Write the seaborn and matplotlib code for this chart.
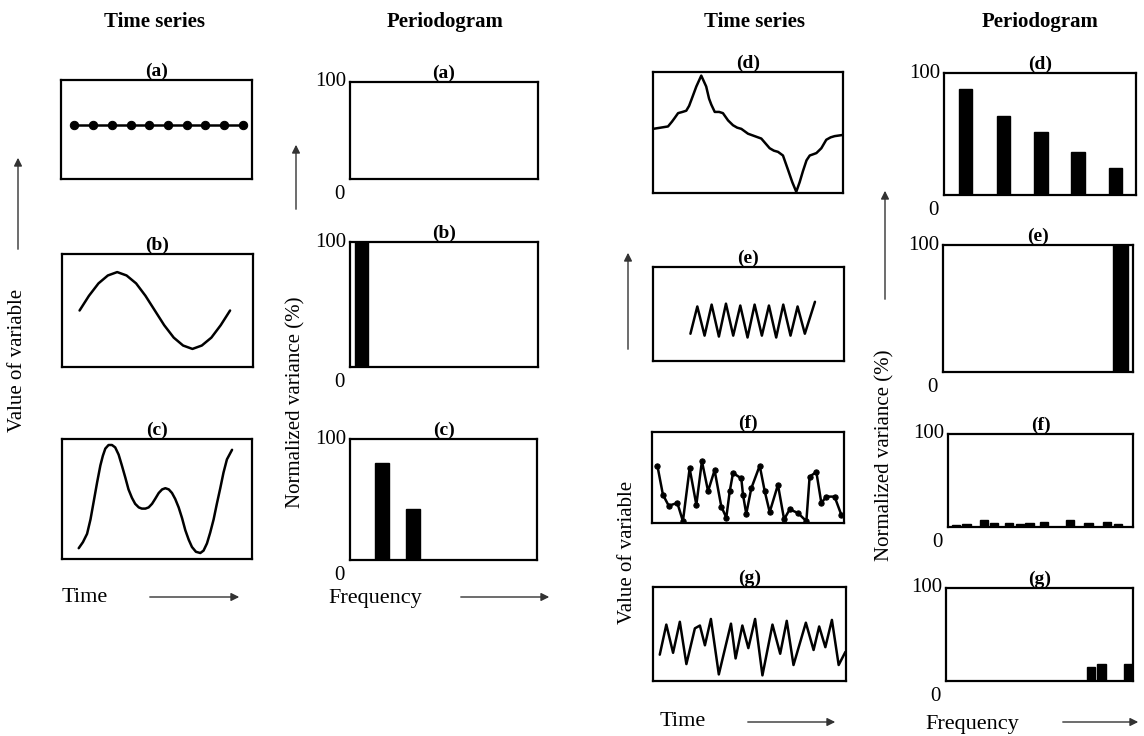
import matplotlib
matplotlib.use("Agg")
import matplotlib.pyplot as plt
from matplotlib.patches import FancyArrowPatch
import seaborn as sns

# ---- time series (x and y as fractions of the window) ----
a_x = [0.07, 0.168, 0.266, 0.364, 0.462, 0.56, 0.658, 0.756, 0.854, 0.953]
a_y = [0.545] * 10

b_x = [0.092, 0.141, 0.191, 0.24, 0.289, 0.338, 0.388, 0.437, 0.486,
       0.535, 0.585, 0.634, 0.683, 0.732, 0.782, 0.831, 0.88]
b_y = [0.50, 0.63, 0.74, 0.81, 0.84, 0.81, 0.74, 0.63, 0.50,
       0.37, 0.26, 0.19, 0.16, 0.19, 0.26, 0.37, 0.50]

c_x = [0.088, 0.11, 0.132, 0.15, 0.167, 0.185, 0.202, 0.215, 0.228, 0.245, 0.263,
       0.28, 0.298, 0.315, 0.333, 0.35, 0.368, 0.385, 0.404, 0.42,
       0.439, 0.456, 0.474, 0.49, 0.509, 0.527, 0.544, 0.562, 0.579, 0.596,
       0.614, 0.632, 0.649, 0.667, 0.684, 0.705, 0.728, 0.745, 0.763,
       0.78, 0.798, 0.815, 0.833, 0.85, 0.868, 0.895]
c_y = [0.09, 0.14, 0.21, 0.33, 0.48, 0.64, 0.78, 0.86, 0.92, 0.95, 0.95,
       0.93, 0.87, 0.78, 0.68, 0.58, 0.51, 0.46, 0.43, 0.42,
       0.42, 0.43, 0.46, 0.50, 0.55, 0.58, 0.59, 0.58, 0.55, 0.50,
       0.43, 0.34, 0.24, 0.16, 0.10, 0.06, 0.05, 0.07, 0.13,
       0.22, 0.33, 0.46, 0.59, 0.72, 0.83, 0.91]

d_x = [0.0, 0.04, 0.079, 0.1, 0.114, 0.132, 0.155, 0.175, 0.19, 0.202, 0.228,
       0.254, 0.28, 0.295, 0.307, 0.325, 0.348, 0.368,
       0.395, 0.421, 0.443, 0.465, 0.5, 0.535, 0.57, 0.592, 0.614, 0.636, 0.658,
       0.684, 0.711, 0.733, 0.754, 0.772, 0.789, 0.808, 0.825, 0.843, 0.86,
       0.886, 0.912, 0.935, 0.956, 1.0]
d_y = [0.53, 0.54, 0.55, 0.59, 0.62, 0.66, 0.67, 0.68, 0.72, 0.77, 0.88,
       0.97, 0.88, 0.78, 0.73, 0.67, 0.67, 0.66,
       0.6, 0.56, 0.54, 0.53, 0.49, 0.47, 0.45, 0.41, 0.37, 0.35, 0.34,
       0.31, 0.19, 0.09, 0.01, 0.09, 0.18, 0.27, 0.31, 0.32, 0.33,
       0.37, 0.44, 0.46, 0.47, 0.48]

e_x = [0.196, 0.232, 0.27, 0.307, 0.345, 0.382, 0.42, 0.457, 0.495,
       0.532, 0.57, 0.607, 0.645, 0.682, 0.72, 0.757, 0.795, 0.848]
e_y = [0.29, 0.58, 0.27, 0.60, 0.26, 0.61, 0.27, 0.59, 0.25,
       0.60, 0.27, 0.59, 0.25, 0.60, 0.27, 0.58, 0.29, 0.63]

f_x = [0.028, 0.057, 0.087, 0.132, 0.161, 0.196, 0.231, 0.26, 0.292, 0.326,
       0.361, 0.387, 0.405, 0.422, 0.465, 0.474, 0.491, 0.517, 0.561, 0.587,
       0.613, 0.656, 0.688, 0.717, 0.76, 0.804, 0.821, 0.856, 0.882, 0.908,
       0.951, 0.986]
f_y = [0.63, 0.31, 0.19, 0.22, 0.02, 0.60, 0.20, 0.68, 0.35, 0.58,
       0.18, 0.06, 0.35, 0.55, 0.49, 0.31, 0.10, 0.38, 0.63, 0.35,
       0.12, 0.42, 0.04, 0.15, 0.11, 0.02, 0.51, 0.56, 0.22, 0.29,
       0.29, 0.09]

g_x = [0.035, 0.069, 0.104, 0.139, 0.173, 0.217, 0.243, 0.269, 0.3, 0.341,
       0.404, 0.428, 0.463, 0.494, 0.529, 0.567, 0.619, 0.659, 0.693, 0.728,
       0.792, 0.832, 0.861, 0.893, 0.927, 0.962, 0.997]
g_y = [0.28, 0.60, 0.30, 0.63, 0.18, 0.56, 0.59, 0.38, 0.66, 0.07,
       0.61, 0.24, 0.59, 0.35, 0.66, 0.06, 0.60, 0.29, 0.64, 0.17,
       0.62, 0.33, 0.58, 0.36, 0.65, 0.17, 0.31]

# ---- periodograms (frequency as fraction of axis, variance in %) ----
pa_f, pa_v = [], []
pb_f, pb_v = [0.062], [100]
pc_f, pc_v = [0.17, 0.335], [80, 42]
pd_f, pd_v = [0.113, 0.309, 0.505, 0.698, 0.892], [87, 65, 52, 35, 22]
pe_f, pe_v = [0.934], [100]
pf_f = [0.045, 0.10, 0.195, 0.25, 0.33, 0.39, 0.44, 0.52, 0.66, 0.76, 0.86, 0.92]
pf_v = [2, 3, 7, 4, 4, 3, 4, 5, 7, 4, 5, 3]
pg_f, pg_v = [0.774, 0.831, 0.975], [15, 18, 18]

W, H = 1144, 736

sns.set_theme(style="white")
plt.rcParams['font.family'] = ['Liberation Serif', 'DejaVu Serif']
plt.rcParams['text.color'] = 'black'

fig = plt.figure(figsize=(W / 100, H / 100), dpi=100)


def px(x, y):
    return (x / W, 1 - y / H)


def box(x0, y0, x1, y1, label):
    ax = fig.add_axes([x0 / W, 1 - y1 / H, (x1 - x0) / W, (y1 - y0) / H])
    ax.set_xlim(0, 1)
    ax.set_xticks([])
    ax.set_yticks([])
    for s in ax.spines.values():
        s.set_visible(True)
        s.set_color('black')
        s.set_linewidth(1.6)
    ax.set_title(label, fontsize=14, fontweight='bold', pad=3, color='black')
    return ax


def series(ax, x, y, marker=None, ms=6):
    sns.lineplot(x=x, y=y, ax=ax, color='black', lw=1.8, sort=False,
                 marker=marker, markersize=ms, markeredgecolor='black',
                 solid_joinstyle='round')
    ax.set_ylim(0, 1)


def periodogram(ax, f, v, w=0.07):
    if f:
        ax.bar(f, v, width=w, color='black', edgecolor='black')
    ax.set_ylim(0, 100)
    ax.annotate('100', (0, 1), xycoords='axes fraction', xytext=(-3, 0),
                textcoords='offset points', ha='right', va='center', fontsize=15)
    ax.annotate('0', (0, 0), xycoords='axes fraction', xytext=(-4, -4),
                textcoords='offset points', ha='right', va='top', fontsize=15)


def arrow(x0, y0, x1, y1):
    fig.add_artist(FancyArrowPatch(px(x0, y0), px(x1, y1), transform=fig.transFigure,
                                   arrowstyle='-|>', mutation_scale=12, lw=1.0,
                                   color='#333333'))


# left block
ax = box(61, 80, 252, 179, '(a)'); series(ax, a_x, a_y, marker='o')
ax = box(62, 254, 253, 367, '(b)'); series(ax, b_x, b_y)
ax = box(62, 439, 252, 559, '(c)'); series(ax, c_x, c_y)

ax = box(350, 82, 538, 179, '(a)'); periodogram(ax, pa_f, pa_v)
ax = box(350, 242, 538, 367, '(b)'); periodogram(ax, pb_f, pb_v)
ax = box(350, 439, 537, 560, '(c)'); periodogram(ax, pc_f, pc_v, w=0.075)

# right block
ax = box(653, 72, 843, 193, '(d)'); series(ax, d_x, d_y)
ax = box(653, 267, 844, 361, '(e)'); series(ax, e_x, e_y)
ax = box(652, 432, 844, 523, '(f)'); series(ax, f_x, f_y, marker='o', ms=3.8)
ax = box(653, 587, 846, 681, '(g)'); series(ax, g_x, g_y)

ax = box(944, 73, 1136, 195, '(d)'); periodogram(ax, pd_f, pd_v)
ax = box(943, 245, 1133, 372, '(e)'); periodogram(ax, pe_f, pe_v, w=0.08)
ax = box(948, 434, 1133, 527, '(f)'); periodogram(ax, pf_f, pf_v, w=0.045)
ax = box(946, 588, 1133, 681, '(g)'); periodogram(ax, pg_f, pg_v, w=0.045)

# headers
for x, t in [(155, 'Time series'), (445, 'Periodogram'),
             (755, 'Time series'), (1040, 'Periodogram')]:
    fig.text(*px(x, 22), t, ha='center', va='center', fontsize=15, fontweight='bold')

# axis captions
fig.text(*px(18, 360), 'Value of variable', rotation=90, ha='center', va='center', fontsize=15)
arrow(18, 252, 18, 155)
fig.text(*px(296, 402), 'Normalized variance (%)', rotation=90, ha='center', va='center', fontsize=15)
arrow(296, 212, 296, 142)
fig.text(*px(628, 552), 'Value of variable', rotation=90, ha='center', va='center', fontsize=15)
arrow(628, 352, 628, 250)
fig.text(*px(885, 455), 'Normalized variance (%)', rotation=90, ha='center', va='center', fontsize=15)
arrow(885, 302, 885, 188)

fig.text(*px(62, 598), 'Time', ha='left', va='center', fontsize=16)
arrow(147, 597, 242, 597)
fig.text(*px(328, 598), 'Frequency', ha='left', va='center', fontsize=16)
arrow(458, 597, 552, 597)
fig.text(*px(660, 722), 'Time', ha='left', va='center', fontsize=16)
arrow(745, 722, 838, 722)
fig.text(*px(925, 724), 'Frequency', ha='left', va='center', fontsize=16)
arrow(1060, 722, 1141, 722)

fig.savefig('out.png', dpi=100)
